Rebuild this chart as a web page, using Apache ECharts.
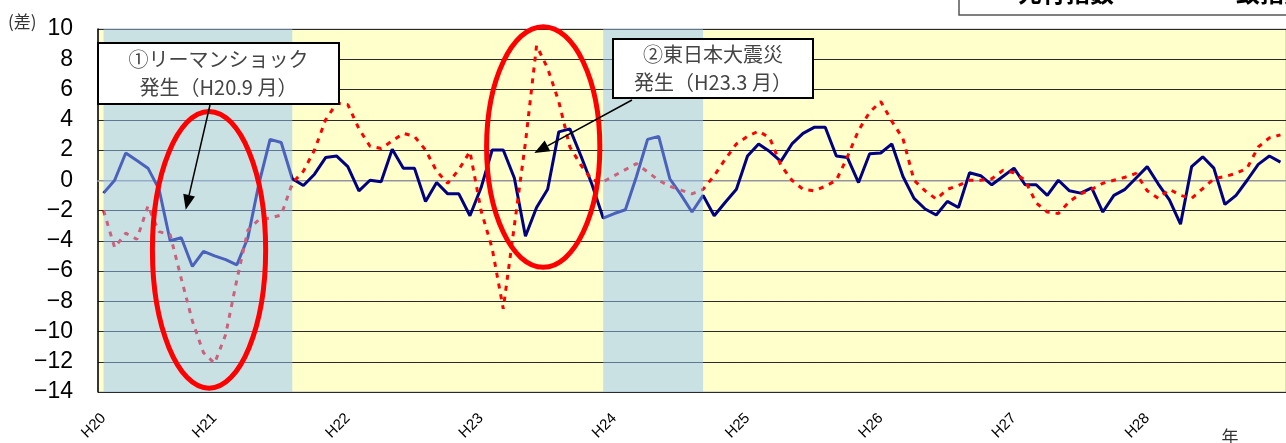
<!DOCTYPE html>
<html>
<head>
<meta charset="utf-8">
<script src="https://cdn.jsdelivr.net/npm/echarts@6/dist/echarts.min.js"></script>
<style>
  html, body { margin: 0; padding: 0; background: #fff; }
  #chart { width: 1286px; height: 443px; }
</style>
</head>
<body>
<div id="chart"></div>
<script>
// monthly differences (一致指数 = solid navy, 先行指数 = red dots)
const coincident = [
  -0.85, 0.0, 1.8, 1.3, 0.8, -0.6, -4.0, -3.8, -5.7, -4.7,
  -5.0, -5.25, -5.6, -3.8, -0.2, 2.7, 2.5, 0.1, -0.35, 0.4,
  1.5, 1.6, 0.9, -0.7, 0.0, -0.1, 2.05, 0.8, 0.8, -1.4,
  -0.15, -0.9, -0.9, -2.35, -0.5, 2.0, 2.0, 0.15, -3.7, -1.8,
  -0.6, 3.2, 3.4, 1.6, -0.3, -2.5, -2.2, -1.95, 0.25, 2.7,
  2.9, 0.1, -0.95, -2.1, -1.0, -2.35, -1.45, -0.6, 1.6, 2.4,
  1.9, 1.25, 2.4, 3.1, 3.5, 3.5, 1.6, 1.5, -0.15, 1.75,
  1.8, 2.4, 0.25, -1.2, -1.9, -2.3, -1.4, -1.8, 0.5, 0.3,
  -0.3, 0.25, 0.8, -0.3, -0.3, -1.0, 0.0, -0.7, -0.85, -0.5,
  -2.1, -1.0, -0.6, 0.15, 0.9, -0.25, -1.3, -2.9, 0.9, 1.55,
  0.8, -1.6, -1.0, 0.0, 1.05, 1.6, 1.2
];
const leading = [
  -2.0, -4.45, -3.5, -3.9, -1.7, -3.4, -3.6, -6.5, -9.3, -11.4,
  -12.1, -10.2, -6.6, -3.3, -2.6, -2.5, -2.3, -0.2, 0.6, 2.0,
  4.0, 5.1, 5.0, 3.4, 2.25, 2.1, 2.6, 3.1, 2.9, 2.0,
  0.6, -0.2, 0.7, 1.9, -2.0, -4.5, -8.5, -3.0, 2.5, 8.9,
  7.4, 5.2, 2.2, 1.0, 0.0, -0.1, 0.3, 0.7, 1.1, 0.55,
  0.0, -0.4, -0.65, -0.9, -0.6, 0.3, 1.4, 2.4, 2.9, 3.25,
  2.8, 1.0, 0.0, -0.6, -0.7, -0.4, 0.0, 1.55, 3.3, 4.5,
  5.2, 3.9, 2.75, 0.0, -0.7, -1.25, -0.6, -0.35, 0.0, 0.0,
  0.1, 0.65, 0.5, 0.0, -1.5, -2.1, -2.2, -1.4, -0.9, -0.6,
  -0.2, 0.0, 0.2, 0.45, -0.7, -1.2, -0.6, -1.0, -1.2, -0.55,
  0.1, 0.25, 0.45, 0.8, 2.2, 2.8, 3.0
];
const yearLabels = ['H20', 'H21', 'H22', 'H23', 'H24', 'H25', 'H26', 'H27', 'H28'];
const yearIndex = [0, 10, 22, 34, 46, 58, 70, 82, 94];
// recession periods (shaded), as month index ranges
const recessions = [[0, 17], [45, 54]];

const categories = coincident.map((_, i) => 'm' + i);

const chart = echarts.init(document.getElementById('chart'));

const option = {
  animation: false,
  grid: {
    left: 98, top: 29, right: -9, bottom: 51,
    show: true, backgroundColor: '#FFFFCC',
    borderColor: '#b8b8b8', borderWidth: 1
  },
  xAxis: {
    type: 'category',
    data: categories,
    boundaryGap: true,
    axisLine: { lineStyle: { color: '#b8b8b8', width: 1.5 } },
    axisTick: { show: false },
    axisLabel: {
      interval: 0, rotate: 45, margin: 24,
      fontFamily: 'Liberation Sans', fontSize: 15, color: '#000',
      formatter: (v, i) => {
        const j = yearIndex.indexOf(i);
        return j >= 0 ? yearLabels[j] : '';
      }
    }
  },
  yAxis: {
    type: 'value', min: -14, max: 10, interval: 2,
    axisLine: { show: true, lineStyle: { color: '#000', width: 1.5 } },
    axisTick: { show: false },
    splitLine: { lineStyle: { color: '#2a2a2a', width: 1 } },
    axisLabel: {
      margin: 25, fontFamily: 'Liberation Sans', fontSize: 23, color: '#000',
      padding: [4, 0, 0, 0],
      formatter: v => (v < 0 ? '\u2212' + (-v) : String(v))
    }
  },
  series: [
    {
      name: '一致指数', type: 'line', data: coincident, symbol: 'none', z: 2,
      lineStyle: { color: '#000080', width: 3 },
      markArea: {
        silent: true, z: 3,
        itemStyle: { color: 'rgba(150,196,250,0.5)' },
        data: recessions.map(r => [{ xAxis: r[0] }, { xAxis: r[1] }])
      }
    },
    {
      name: '先行指数', type: 'line', data: leading, symbol: 'none', z: 2,
      lineStyle: { color: '#ff0000', width: 3, type: [5, 6] }
    }
  ]
};
chart.setOption(option);

// annotations placed in data space
const x0 = chart.convertToPixel({ gridIndex: 0 }, [0, 0]);
const x1 = chart.convertToPixel({ gridIndex: 0 }, [1, 0]);
const bw = x1[0] - x0[0];
const X = k => x0[0] + k * bw;
const Y = v => chart.convertToPixel({ gridIndex: 0 }, [0, v])[1];

function ring(k, v, dk, dv) {
  return {
    type: 'ellipse', z: 100,
    shape: { cx: X(k), cy: Y(v), rx: dk * bw, ry: Y(v - dv) - Y(v) },
    style: { fill: 'none', stroke: '#ff0000', lineWidth: 5 }
  };
}
function arrow(xa, ya, xb, yb) {
  const a = Math.atan2(yb - ya, xb - xa);
  const L = 15, W = 6;
  const bx = xb - L * Math.cos(a), by = yb - L * Math.sin(a);
  const nx = -Math.sin(a) * W, ny = Math.cos(a) * W;
  return [
    { type: 'line', z: 100, shape: { x1: xa, y1: ya, x2: bx, y2: by }, style: { stroke: '#000', lineWidth: 1.5 } },
    { type: 'polygon', z: 100, shape: { points: [[xb, yb], [bx + nx, by + ny], [bx - nx, by - ny]] }, style: { fill: '#000' } }
  ];
}
function box(x, y, w, h, text) {
  return [
    { type: 'rect', z: 100, shape: { x: x, y: y, width: w, height: h }, style: { fill: '#fff', stroke: '#000', lineWidth: 2 } },
    { type: 'text', z: 101, style: {
      x: x + w / 2, y: y + h / 2, text: text, align: 'center', verticalAlign: 'middle',
      fontFamily: '"Noto Sans CJK JP"', fontSize: 20, lineHeight: 28, fill: '#444' } }
  ];
}

const graphics = [].concat(
  [ring(9.5, -4.6, 5.1, 9.15), ring(39.6, 2.2, 5.1, 7.95)],
  box(98, 43, 241, 61, '①リーマンショック\n発生（H20.9 月）'),
  box(613, 39, 200, 59, '②東日本大震災\n発生（H23.3 月）'),
  arrow(210, 105, X(7.4), Y(-1.95)),
  arrow(632, 100, X(38.8), Y(1.8)),
  [
    { type: 'text', z: 100, style: { x: 8, y: 22, text: '(差)', align: 'left', verticalAlign: 'middle',
      fontFamily: '"Noto Sans CJK JP"', fontSize: 17, fill: '#333' } },
    { type: 'text', z: 100, style: { x: 1230, y: 437, text: '年', align: 'center', verticalAlign: 'middle',
      fontFamily: '"Noto Sans CJK JP"', fontSize: 17, fill: '#333' } },
    { type: 'rect', z: 100, shape: { x: 959, y: -10, width: 400, height: 25 }, style: { fill: '#fff', stroke: '#555', lineWidth: 1.5 } },
    { type: 'text', z: 101, style: { x: 1018, y: 5, text: '先行指数', align: 'left', verticalAlign: 'bottom',
      fontFamily: '"Noto Sans CJK JP"', fontSize: 24, fontWeight: 'bold', fill: '#000' } },
    { type: 'text', z: 101, style: { x: 1212, y: 5, text: '一致指数', align: 'left', verticalAlign: 'bottom',
      fontFamily: '"Noto Sans CJK JP"', fontSize: 24, fontWeight: 'bold', fill: '#000' } }
  ]
);
chart.setOption({ graphic: graphics });
</script>
</body>
</html>
